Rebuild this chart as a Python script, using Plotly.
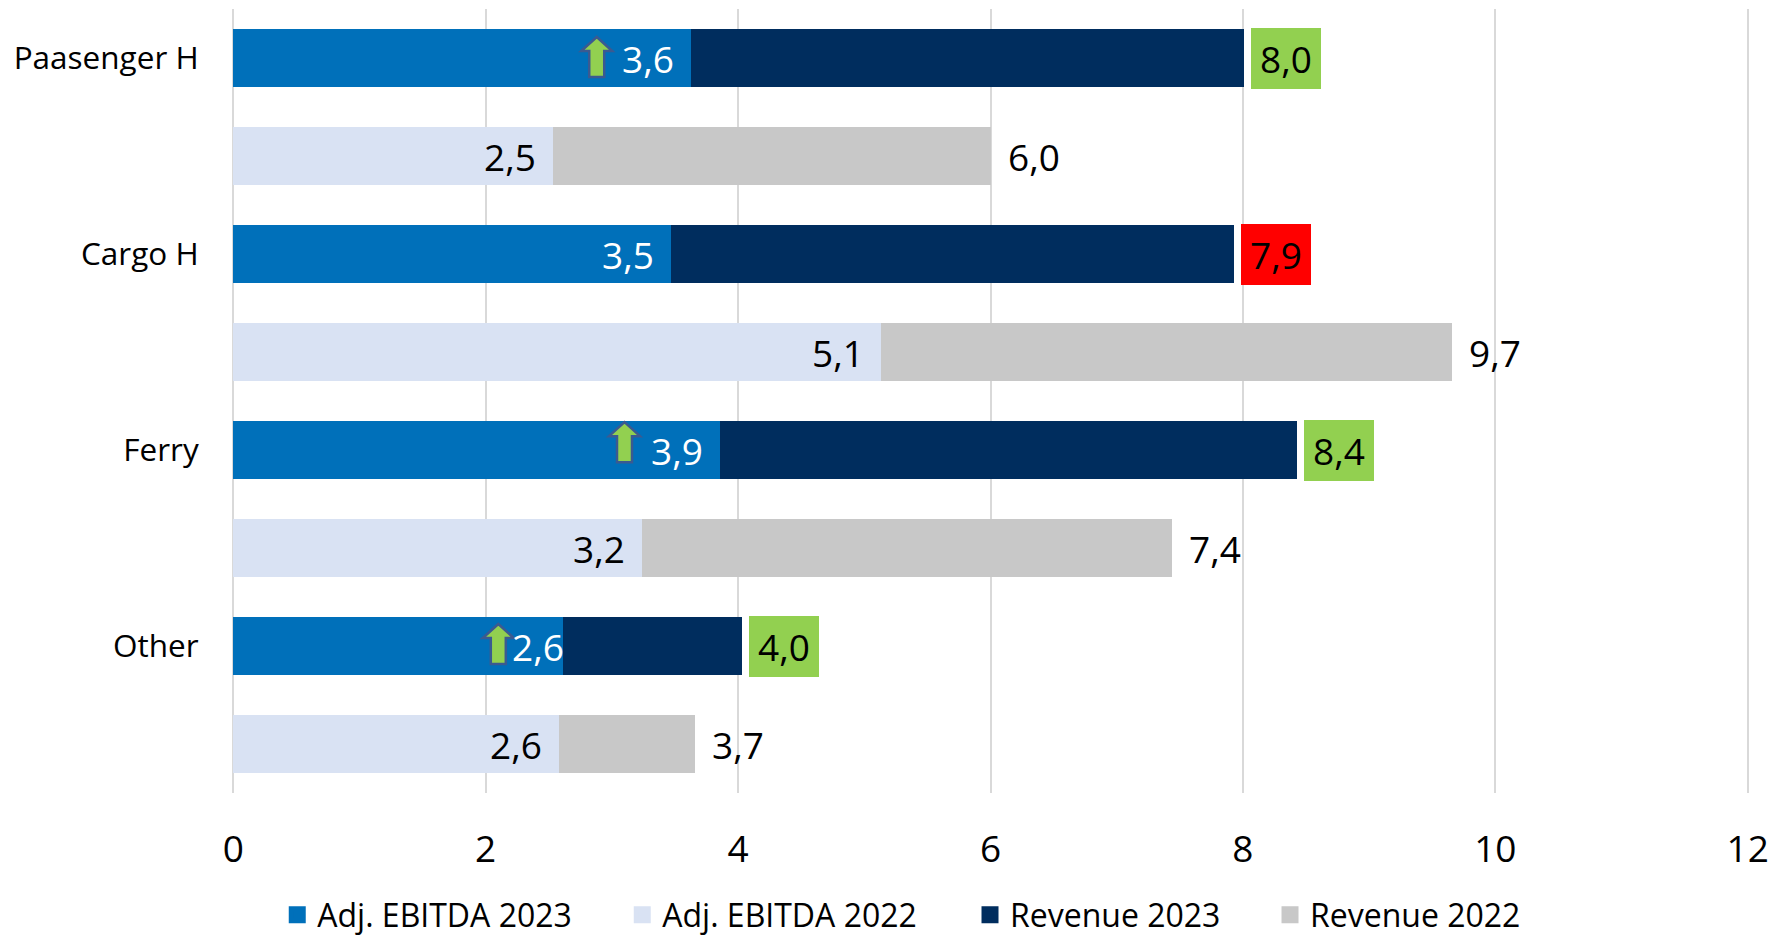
import plotly.graph_objects as go

categories = ["Paasenger H", "Cargo H", "Ferry", "Other"]
ebitda_2023 = [3.63, 3.47, 3.86, 2.61]
ebitda_2022 = [2.53, 5.13, 3.24, 2.58]
revenue_2023 = [8.01, 7.93, 8.43, 4.03]
revenue_2022 = [6.00, 9.66, 7.44, 3.66]
revenue_2023_flags = ["#92D050", "#FF0000", "#92D050", "#92D050"]
arrow_positions = [2.88, None, 3.10, 2.10]
arrow_row_offset = [-0.01, None, -0.08, -0.02]
ebitda_2023_label_shift = [-15, -15, -15, 3]
x_ticks = [0, 2, 4, 6, 8, 10, 12]

C_E23, C_E22, C_R23, C_R22 = "#0070BA", "#D9E2F3", "#002D5E", "#C8C8C8"
FONT = "Open Sans"
# the page has an 8px body margin, so the figure is 1764x929
W, H = 1764, 929
PAD = 0.01              # keeps the end gridlines at 0 and 12 from being clipped
UNIT = 126.25
L, R, T, B = 225 - PAD * UNIT, 24 - PAD * UNIT, 1, 144
PW, PH = W - L - R, H - T - B

y_2023 = [2 * i for i in range(len(categories))]
y_2022 = [2 * i + 1 for i in range(len(categories))]


def lab(v):
    return f"{v:.1f}".replace(".", ",")


fig = go.Figure()
for name, xs, ys, col in [
    ("Revenue 2023", revenue_2023, y_2023, C_R23),
    ("Revenue 2022", revenue_2022, y_2022, C_R22),
    ("Adj. EBITDA 2023", ebitda_2023, y_2023, C_E23),
    ("Adj. EBITDA 2022", ebitda_2022, y_2022, C_E22),
]:
    fig.add_trace(go.Bar(name=name, x=xs, y=ys, orientation="h", width=0.59,
                         marker=dict(color=col, line=dict(width=0)), showlegend=False))

# legend entries, in the reference's order
for name, col, lg in [("Adj. EBITDA 2023", C_E23, "legend"), ("Adj. EBITDA 2022", C_E22, "legend"),
                      ("Revenue 2023", C_R23, "legend2"), ("Revenue 2022", C_R22, "legend2")]:
    fig.add_trace(go.Bar(name=name, x=[None], y=[None], orientation="h", legend=lg,
                         marker=dict(color=col, line=dict(color=col, width=5)), showlegend=True))

ann = []
common = dict(showarrow=False)
for i in range(4):
    ann.append(dict(x=ebitda_2023[i], y=y_2023[i], text=lab(ebitda_2023[i]), xanchor="right",
                    xshift=ebitda_2023_label_shift[i],
                    font=dict(family=FONT, size=37, color="white"), **common))
    ann.append(dict(x=ebitda_2022[i], y=y_2022[i], text=lab(ebitda_2022[i]), xanchor="right", xshift=-15,
                    font=dict(family=FONT, size=37, color="black"), **common))
    ann.append(dict(x=revenue_2023[i], y=y_2023[i], text=lab(revenue_2023[i]), xanchor="left", xshift=7,
                    width=70, height=61, align="center", valign="middle", bgcolor=revenue_2023_flags[i],
                    borderpad=0, borderwidth=0, showarrow=False,
                    font=dict(family=FONT, size=37, color="black")))
    ann.append(dict(x=revenue_2022[i], y=y_2022[i], text=lab(revenue_2022[i]), xanchor="left", xshift=15,
                    font=dict(family=FONT, size=37, color="black"), **common))

ARROW = "M 0 20 L 15.5 6 L 7.5 6 L 7.5 -20 L -7.5 -20 L -7.5 6 L -15.5 6 Z"
shapes = []
for i, a in enumerate(arrow_positions):
    if a is None:
        continue
    shapes.append(dict(type="path", xref="x", yref="y", xsizemode="pixel", ysizemode="pixel",
                       xanchor=a, yanchor=y_2023[i] + arrow_row_offset[i], path=ARROW, fillcolor="#92D050",
                       line=dict(color="#3B5A91", width=2.5), layer="above"))

legend_common = dict(orientation="h", xanchor="left", y=-(907 - (H - B)) / PH, yanchor="middle",
                     font=dict(family=FONT, size=32, color="black"), bgcolor="rgba(0,0,0,0)",
                     traceorder="normal", entrywidthmode="pixels")

fig.update_layout(
    width=W, height=H, barmode="overlay", bargap=0,
    autosize=False,
    margin=dict(l=L, r=R, t=T, b=B, pad=0, autoexpand=False),
    paper_bgcolor="white", plot_bgcolor="white",
    font=dict(family=FONT, color="black"),
    annotations=ann, shapes=shapes,
    legend=dict(x=(269 - L) / PW, entrywidth=300, **legend_common),
    legend2=dict(x=(962 - L) / PW, entrywidth=255, **legend_common),
    xaxis=dict(range=[-PAD, 12 + PAD], tickvals=x_ticks, ticktext=[str(t) for t in x_ticks],
               showgrid=True, gridcolor="#D9D9D9", gridwidth=2, zeroline=False,
               showline=False, ticks="outside", ticklen=24, tickcolor="rgba(0,0,0,0)",
               tickfont=dict(family=FONT, size=37, color="black")),
    yaxis=dict(range=[7.5, -0.5], tickvals=y_2023, ticktext=categories, showgrid=False, zeroline=False,
               showline=False, ticks="outside", ticklen=26, tickcolor="rgba(0,0,0,0)",
               tickfont=dict(family=FONT, size=31.5, color="black")),
)
fig.write_html("out.html", config=dict(displayModeBar=False))
